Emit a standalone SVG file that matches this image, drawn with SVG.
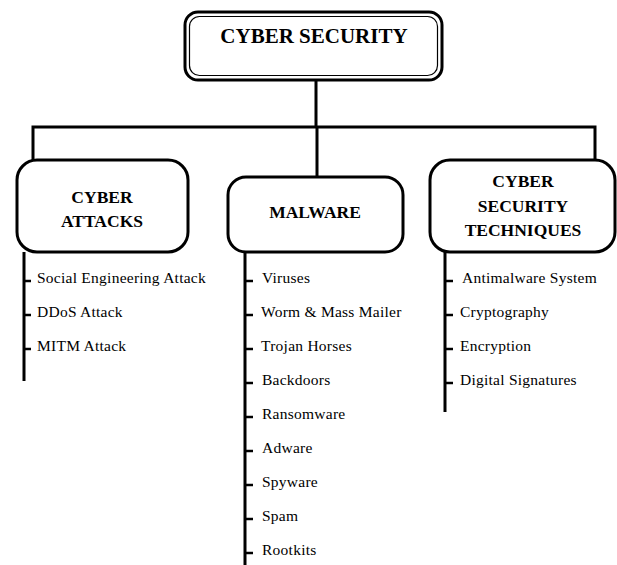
<svg xmlns="http://www.w3.org/2000/svg" width="617" height="565" viewBox="0 0 617 565">
<style>
.box{fill:#fff;stroke:#000;stroke-width:3}
.inner{fill:none;stroke:#000;stroke-width:1.2}
.title{font-family:"Liberation Serif",serif;font-weight:bold;font-size:17.5px;text-anchor:middle;fill:#000}
.main{font-size:21px}
.item{font-family:"Liberation Serif",serif;font-size:15.5px;letter-spacing:0.25px;fill:#000}
.ln{stroke:#000;stroke-width:3;fill:none}
.tick{stroke:#000;stroke-width:2.5}
</style>
<rect width="617" height="565" fill="#fff"/>
<g id="connectors">
<path class="ln" d="M316,80 V127 M33,160 V127 H595 V160 M317,127 V177"/>
<path class="ln" d="M24,252 V381 M245,252 V565 M445,252 V412"/>
<g class="tick">
<line x1="24" y1="281" x2="31" y2="281"/>
<line x1="24" y1="315" x2="31" y2="315"/>
<line x1="24" y1="349" x2="31" y2="349"/>
<line x1="245" y1="281" x2="253" y2="281"/>
<line x1="245" y1="315" x2="253" y2="315"/>
<line x1="245" y1="349" x2="253" y2="349"/>
<line x1="245" y1="383" x2="253" y2="383"/>
<line x1="245" y1="417" x2="253" y2="417"/>
<line x1="245" y1="451" x2="253" y2="451"/>
<line x1="245" y1="485" x2="253" y2="485"/>
<line x1="245" y1="519" x2="253" y2="519"/>
<line x1="245" y1="553" x2="253" y2="553"/>
<line x1="445" y1="281" x2="453" y2="281"/>
<line x1="445" y1="315" x2="453" y2="315"/>
<line x1="445" y1="349" x2="453" y2="349"/>
<line x1="445" y1="383" x2="453" y2="383"/>
</g>
</g>
<g id="cyber-security">
<rect class="box" x="185" y="12" width="257" height="68" rx="13"/>
<rect class="inner" x="189.5" y="16.5" width="248" height="59" rx="10"/>
<text class="title main" x="314" y="43">CYBER SECURITY</text>
</g>
<g id="cyber-attacks">
<rect class="box" x="17" y="160" width="171" height="92" rx="20"/>
<text class="title" x="102" y="203">CYBER</text>
<text class="title" x="102" y="227">ATTACKS</text>
</g>
<g id="malware">
<rect class="box" x="228" y="177" width="175" height="75" rx="18"/>
<text class="title" x="315" y="218">MALWARE</text>
</g>
<g id="cyber-security-techniques">
<rect class="box" x="430" y="160" width="185" height="92" rx="20"/>
<text class="title" x="523" y="187">CYBER</text>
<text class="title" x="523" y="212">SECURITY</text>
<text class="title" x="523" y="236">TECHNIQUES</text>
</g>
<g id="attack-items" class="item">
<text x="37" y="283">Social Engineering  Attack</text>
<text x="37" y="317">DDoS Attack</text>
<text x="37" y="351">MITM Attack</text>
</g>
<g id="malware-items" class="item">
<text x="262" y="283">Viruses</text>
<text x="261" y="317">Worm &amp; Mass Mailer</text>
<text x="261" y="351">Trojan Horses</text>
<text x="262" y="385">Backdoors</text>
<text x="262" y="419">Ransomware</text>
<text x="262" y="453">Adware</text>
<text x="262" y="487">Spyware</text>
<text x="262" y="521">Spam</text>
<text x="262" y="555">Rootkits</text>
</g>
<g id="technique-items" class="item">
<text x="462" y="283">Antimalware System</text>
<text x="460" y="317">Cryptography</text>
<text x="460" y="351">Encryption</text>
<text x="460" y="385">Digital  Signatures</text>
</g>
</svg>
